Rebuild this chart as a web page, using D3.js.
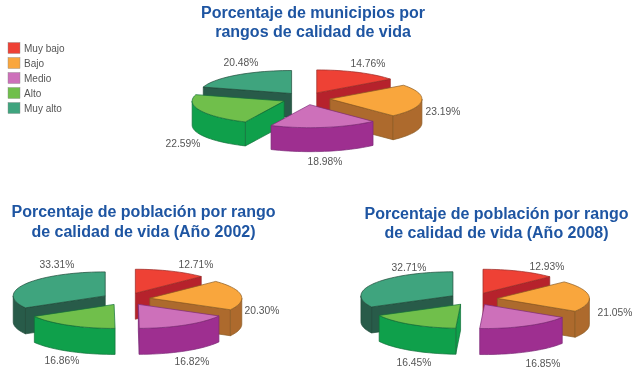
<!DOCTYPE html>
<html>
<head>
<meta charset="utf-8">
<script src="https://cdn.jsdelivr.net/npm/d3@7"></script>
<style>
  html, body { margin: 0; background: #fff; }
  svg { display: block; filter: blur(0.5px); }
  text { font-family: "Liberation Sans", sans-serif; }
</style>
</head>
<body>
<svg id="chart" width="640" height="375"></svg>
<script>
const categories = ['Muy bajo', 'Bajo', 'Medio', 'Alto', 'Muy alto'];
const municipios = [14.76, 23.19, 18.98, 22.59, 20.48];
const poblacion2002 = [12.71, 20.30, 16.82, 16.86, 33.31];
const poblacion2008 = [12.93, 21.05, 16.85, 16.45, 32.71];

const topColors = ['#ee4135', '#f9a63d', '#cd70ba', '#70bf4b', '#3fa47e'];
const wallColors = ['#b6222c', '#ad6a2d', '#9e2f90', '#0fa04b', '#285b49'];
const edgeColors = ['#9a2a25', '#8a5a22', '#7d2a78', '#11703a', '#1f4a3a'];

const charts = [
  {
    values: municipios, cx: 306, cy: 98.5, ry: 23, depth: 24,
    title: ['Porcentaje de municipios por', 'rangos de calidad de vida'],
    titleX: 313, titleY: [18, 37],
    labels: [[368, 63], [443, 111], [325, 161], [183, 143], [241, 62]]
  },
  {
    values: poblacion2002, cx: 126, cy: 299, ry: 24, depth: 26,
    title: ['Porcentaje de población por rango', 'de calidad de vida (Año 2002)'],
    titleX: 143.5, titleY: [217, 237],
    labels: [[196, 264], [262, 310], [192, 361], [62, 360], [57, 264]]
  },
  {
    values: poblacion2008, cx: 473.5, cy: 299, ry: 24, depth: 26,
    title: ['Porcentaje de población por rango', 'de calidad de vida (Año 2008)'],
    titleX: 496.5, titleY: [219, 238],
    labels: [[547, 266], [615, 312], [543, 363], [414, 362], [409, 267]]
  }
];

const rx = 92, explode = 24, tilt = 0.26;
const svg = d3.select('#chart');

const pie = d3.pie().sort(null).value(d => d);
const line = d3.line();
const xScale = d3.scaleLinear().domain([-1, 1]).range([-rx, rx]);

function drawPie (chart) {
  const g = svg.append('g');
  // unit circle -> flattened pie
  const yScale = d3.scaleLinear().domain([-1, 1]).range([-chart.ry, chart.ry]);
  const depth = chart.depth;

  const arcPoints = (a0, a1, ox, oy) => {
    const n = Math.max(2, Math.ceil((a1 - a0) / 0.05));
    return d3.range(n + 1).map(i => {
      const a = a0 + (a1 - a0) * i / n;
      return [ox + xScale(Math.sin(a)), oy + yScale(-Math.cos(a))];
    });
  };

  const slices = pie(chart.values).map((s, i) => {
    const mid = (s.startAngle + s.endAngle) / 2;
    return {
      ...s,
      i,
      mid,
      ox: chart.cx + explode * Math.sin(mid),
      oy: chart.cy - explode * tilt * Math.cos(mid)
    };
  });
  // back to front
  slices.sort((a, b) => Math.cos(b.mid) - Math.cos(a.mid));

  slices.forEach(s => {
    const sg = g.append('g')
      .attr('stroke', edgeColors[s.i])
      .attr('stroke-width', 0.7)
      .attr('stroke-linejoin', 'round');
    const apex = [s.ox, s.oy];
    const a0 = s.startAngle, a1 = s.endAngle;
    const side = p => [apex, p, [p[0], p[1] + depth], [apex[0], apex[1] + depth]];

    if (Math.sin(a0) < -1e-6) {
      sg.append('path')
        .attr('d', line(side(arcPoints(a0, a0, s.ox, s.oy)[0])) + 'Z')
        .attr('fill', wallColors[s.i]);
    }
    if (Math.sin(a1) > 1e-6) {
      sg.append('path')
        .attr('d', line(side(arcPoints(a1, a1, s.ox, s.oy)[0])) + 'Z')
        .attr('fill', wallColors[s.i]);
    }

    // outer wall, front half only
    const w0 = Math.max(a0, Math.PI / 2), w1 = Math.min(a1, Math.PI * 1.5);
    if (w1 > w0) {
      const rim = arcPoints(w0, w1, s.ox, s.oy);
      const low = rim.map(p => [p[0], p[1] + depth]).reverse();
      sg.append('path')
        .attr('d', line(rim.concat(low)) + 'Z')
        .attr('fill', wallColors[s.i]);
    }

    sg.append('path')
      .attr('d', line([apex].concat(arcPoints(a0, a1, s.ox, s.oy))) + 'Z')
      .attr('fill', topColors[s.i]);
  });

  g.selectAll('text.pct')
    .data(chart.values)
    .join('text')
    .attr('class', 'pct')
    .attr('x', (d, i) => chart.labels[i][0])
    .attr('y', (d, i) => chart.labels[i][1] + 3.5)
    .attr('text-anchor', 'middle')
    .attr('font-size', 10.3)
    .attr('fill', '#555')
    .text(d => d.toFixed(2) + '%');

  g.selectAll('text.title')
    .data(chart.title)
    .join('text')
    .attr('class', 'title')
    .attr('x', chart.titleX)
    .attr('y', (d, i) => chart.titleY[i])
    .attr('text-anchor', 'middle')
    .attr('font-size', 16)
    .attr('font-weight', 'bold')
    .attr('fill', '#1e55a2')
    .text(d => d);
}

charts.forEach(drawPie);

const legendY = d3.scalePoint().domain(categories).range([48, 108]);
const legend = svg.append('g').selectAll('g')
  .data(categories)
  .join('g')
  .attr('transform', d => `translate(8,${legendY(d)})`);
legend.append('rect')
  .attr('y', -5.5)
  .attr('width', 12)
  .attr('height', 11)
  .attr('fill', (d, i) => topColors[i])
  .attr('stroke', '#888')
  .attr('stroke-width', 0.4);
legend.append('text')
  .attr('x', 16)
  .attr('y', 3.5)
  .attr('font-size', 10)
  .attr('fill', '#555')
  .text(d => d);
</script>
</body>
</html>
